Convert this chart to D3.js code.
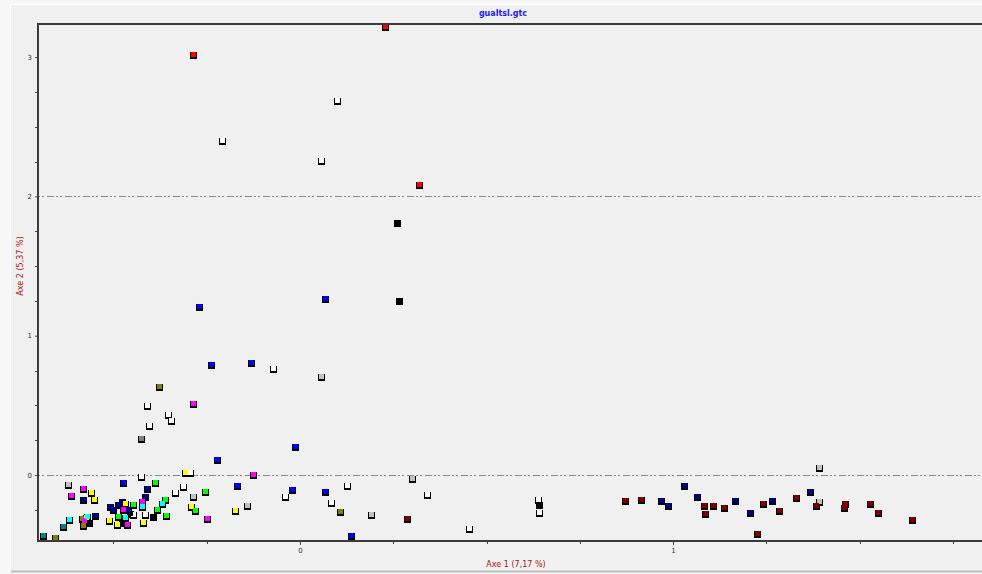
<!DOCTYPE html>
<html>
<head>
<meta charset="utf-8">
<script src="https://cdn.jsdelivr.net/npm/d3@7/dist/d3.min.js"></script>
<style>
  html, body { margin: 0; padding: 0; background: #f7f7f7; }
  svg { display: block; }
</style>
</head>
<body>
<svg id="chart" width="982" height="574"></svg>
<script>
// Factor map: each group of individuals drawn as small squares of one colour.
const chartTitle = "gualtsl.gtc";
const xAxisTitle = "Axe 1 (7,17 %)";
const yAxisTitle = "Axe 2 (5,37 %)";

const xTickValues = [0, 1];
const yTickValues = [0, 1, 2, 3];
const refLines = [0, 2];

// Coordinates [axe 1, axe 2] per group
const rouge = [[-0.287, 3.015], [0.228, 3.216], [0.319, 2.082]];
const blanc = [[-0.209, 2.398], [0.099, 2.685], [0.056, 2.254], [-0.072, 0.761], [-0.410, 0.495],
  [-0.354, 0.431], [-0.346, 0.388], [-0.405, 0.352], [-0.426, -0.014], [-0.295, 0.014],
  [-0.314, -0.086], [-0.335, -0.129], [-0.040, -0.158], [0.126, -0.079], [0.083, -0.201],
  [0.340, -0.144], [0.453, -0.388], [0.638, -0.179], [0.641, -0.273], [-0.448, -0.287],
  [-0.416, -0.287]];
const noir = [[0.260, 1.809], [0.265, 1.249], [-0.394, -0.302], [-0.456, -0.280], [-0.477, -0.345],
  [-0.566, -0.345], [0.641, -0.215]];
const gris = [[0.056, 0.704], [-0.287, -0.158], [-0.142, -0.223], [0.190, -0.287], [0.300, -0.029],
  [-0.622, -0.072], [1.391, 0.050], [1.391, -0.194]];
const grisFonce = [[-0.426, 0.258]];
const bleu = [[-0.271, 1.206], [0.067, 1.263], [-0.239, 0.790], [-0.131, 0.804], [-0.013, 0.201],
  [-0.223, 0.108], [-0.475, -0.057], [-0.169, -0.079], [-0.021, -0.108], [0.067, -0.122],
  [0.137, -0.438]];
const marine = [[-0.410, -0.100], [-0.416, -0.158], [-0.582, -0.179], [-0.509, -0.230], [-0.488, -0.215],
  [-0.477, -0.194], [-0.501, -0.251], [-0.461, -0.251], [-0.550, -0.294], [0.968, -0.187],
  [0.987, -0.223], [1.029, -0.079], [1.064, -0.158], [1.166, -0.187], [1.206, -0.273],
  [1.265, -0.187], [1.367, -0.122]];
const bordeaux = [[0.287, -0.316], [0.871, -0.187], [0.914, -0.179], [1.083, -0.223], [1.086, -0.280],
  [1.107, -0.223], [1.137, -0.237], [1.225, -0.424], [1.241, -0.208], [1.284, -0.258],
  [1.330, -0.165], [1.383, -0.223], [1.461, -0.208], [1.458, -0.237], [1.528, -0.208],
  [1.550, -0.273], [1.641, -0.323]];
const olive = [[-0.378, 0.632], [0.107, -0.266], [-0.584, -0.316], [-0.582, -0.366], [-0.657, -0.452]];
const jaune = [[-0.308, 0.014], [-0.560, -0.129], [-0.552, -0.179], [-0.469, -0.208], [-0.512, -0.330],
  [-0.491, -0.359], [-0.574, -0.309], [-0.174, -0.258], [-0.292, -0.230], [-0.421, -0.345]];
const magenta = [[-0.287, 0.510], [-0.126, 0.000], [-0.582, -0.100], [-0.614, -0.151], [-0.424, -0.194],
  [-0.249, -0.316], [-0.475, -0.251], [-0.464, -0.359], [-0.579, -0.330]];
const vert = [[-0.389, -0.057], [-0.255, -0.122], [-0.362, -0.179], [-0.282, -0.258], [-0.383, -0.251],
  [-0.359, -0.294], [-0.448, -0.215], [-0.488, -0.302]];
const cyan = [[-0.370, -0.208], [-0.424, -0.230], [-0.469, -0.309], [-0.571, -0.302], [-0.619, -0.323]];
const sarcelle = [[-0.635, -0.373], [-0.689, -0.438]];

const groups = [
  { color: "#ffffff", pts: blanc },
  { color: "#c0c0c0", pts: gris },
  { color: "#808080", pts: grisFonce },
  { color: "#000000", pts: noir },
  { color: "#0000ff", pts: bleu },
  { color: "#000080", pts: marine },
  { color: "#800000", pts: bordeaux },
  { color: "#808000", pts: olive },
  { color: "#ffff00", pts: jaune },
  { color: "#ff00ff", pts: magenta },
  { color: "#00ff00", pts: vert },
  { color: "#00ffff", pts: cyan },
  { color: "#008080", pts: sarcelle },
  { color: "#ff0000", pts: rouge }
];

const svg = d3.select("#chart");
const W = 982, H = 574;
const plot = { left: 38, top: 24, right: 986, bottom: 541 };

// Outer panel with a sunken-style edge
svg.append("rect").attr("x", 11).attr("y", 5).attr("width", W - 11).attr("height", 566).attr("fill", "#f0f0f0");
svg.append("line").attr("x1", 10.5).attr("x2", 10.5).attr("y1", 5).attr("y2", 571).attr("stroke", "#ffffff");
svg.append("line").attr("x1", 11).attr("x2", W).attr("y1", 4.5).attr("y2", 4.5).attr("stroke", "#ffffff");
svg.append("line").attr("x1", 11).attr("x2", W).attr("y1", 571.5).attr("y2", 571.5).attr("stroke", "#bdbdbd").attr("stroke-width", 2);

const x = d3.scaleLinear().domain([-0.7024, 1.8284]).range([plot.left, 982]);
const y = d3.scaleLinear().domain([-0.4738, 3.2376]).range([plot.bottom, plot.top]);

// Reference lines
svg.selectAll("line.ref").data(refLines).enter().append("line")
  .attr("class", "ref")
  .attr("x1", plot.left).attr("x2", 982)
  .attr("y1", d => Math.round(y(d)) + 0.5).attr("y2", d => Math.round(y(d)) + 0.5)
  .attr("stroke", "#8a8a8a").attr("stroke-width", 1.2)
  .attr("stroke-dasharray", "2,2,2,3,7,2");

// Minor ticks every quarter unit
const xMinor = d3.range(-0.5, 1.8, 0.25).filter(v => Math.abs(v - Math.round(v)) > 1e-6);
const yMinor = d3.range(-0.25, 3.2, 0.25).filter(v => Math.abs(v - Math.round(v)) > 1e-6);

const xAxis = svg.append("g").attr("transform", `translate(0,${plot.bottom + 1})`)
  .call(d3.axisBottom(x).tickValues(xTickValues).tickSize(3).tickPadding(3).tickFormat(d3.format("d")));
const yAxis = svg.append("g").attr("transform", `translate(${plot.left - 1},0)`)
  .call(d3.axisLeft(y).tickValues(yTickValues).tickSize(2).tickPadding(3).tickFormat(d3.format("d")));
[xAxis, yAxis].forEach(g => {
  g.select(".domain").remove();
  g.selectAll("line").attr("stroke", "#444");
  g.selectAll("text").attr("font-family", "DejaVu Sans, sans-serif").attr("font-size", 7).attr("fill", "#333");
});
svg.append("g").selectAll("line").data(xMinor).enter().append("line")
  .attr("x1", d => Math.round(x(d)) + 0.5).attr("x2", d => Math.round(x(d)) + 0.5)
  .attr("y1", plot.bottom + 1).attr("y2", plot.bottom + 3).attr("stroke", "#444");
svg.append("g").selectAll("line").data(yMinor).enter().append("line")
  .attr("x1", plot.left - 3).attr("x2", plot.left - 1)
  .attr("y1", d => Math.round(y(d)) + 0.5).attr("y2", d => Math.round(y(d)) + 0.5).attr("stroke", "#444");

// Points
const pts = groups.flatMap(g => g.pts.map(p => ({ color: g.color, x: p[0], y: p[1] })));
const marks = svg.append("g");
marks.selectAll("rect.shadow").data(pts).enter().append("rect")
  .attr("class", "shadow")
  .attr("x", d => Math.round(x(d.x)) - 3).attr("y", d => Math.round(y(d.y)) - 3)
  .attr("width", 7).attr("height", 7).attr("fill", "#000");
marks.selectAll("rect.fill").data(pts).enter().append("rect")
  .attr("class", "fill")
  .attr("x", d => Math.round(x(d.x)) - 2).attr("y", d => Math.round(y(d.y)) - 3)
  .attr("width", 5).attr("height", 5).attr("fill", d => d.color);

// Plot frame (open on the right, running past the panel edge)
svg.append("path")
  .attr("d", `M982,${plot.top}H${plot.left}V${plot.bottom}H982`)
  .attr("fill", "none").attr("stroke", "#3a3a3a").attr("stroke-width", 2);

// Titles
svg.append("text").attr("x", 503).attr("y", 16).attr("text-anchor", "middle")
  .attr("font-family", "DejaVu Sans, sans-serif").attr("font-size", 8).attr("font-weight", "bold")
  .attr("fill", "#2020ff").text(chartTitle);
svg.append("text").attr("x", 516).attr("y", 567).attr("text-anchor", "middle")
  .attr("font-family", "DejaVu Sans, sans-serif").attr("font-size", 8)
  .attr("fill", "#b01010").text(xAxisTitle);
svg.append("text").attr("transform", "translate(23,266) rotate(-90)").attr("text-anchor", "middle")
  .attr("font-family", "DejaVu Sans, sans-serif").attr("font-size", 8)
  .attr("fill", "#b01010").text(yAxisTitle);
</script>
</body>
</html>
